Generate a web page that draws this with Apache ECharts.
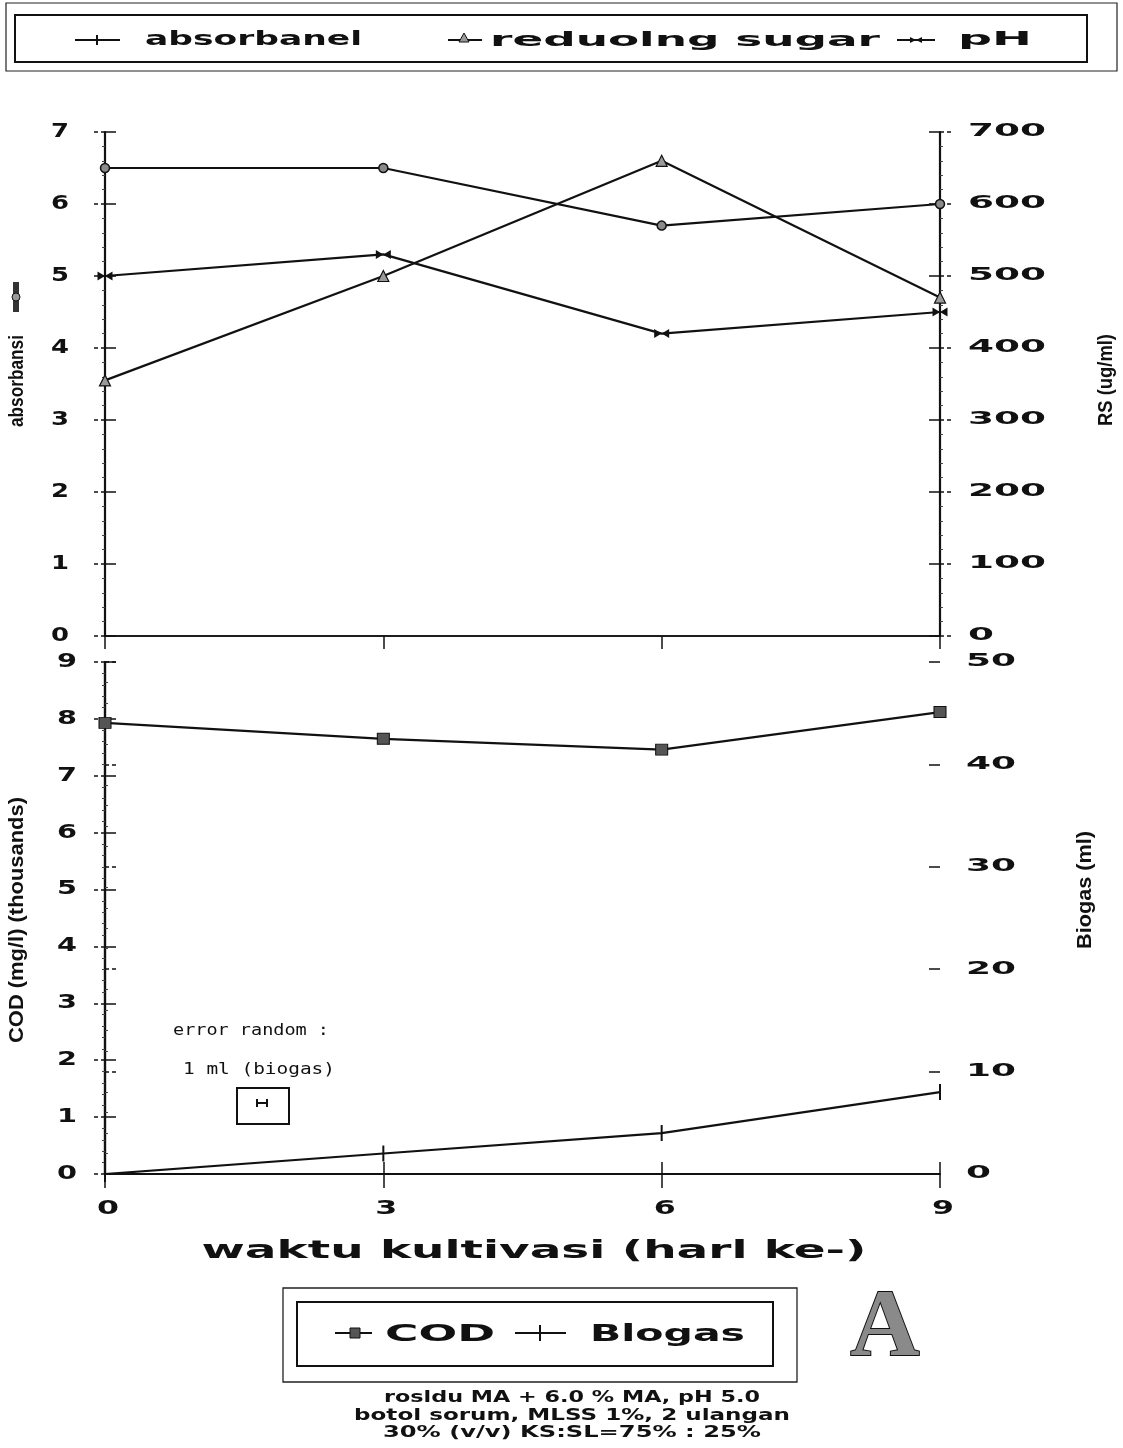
<!DOCTYPE html>
<html>
<head>
<meta charset="utf-8">
<title>Kultivasi residu MA</title>
<script src="https://cdn.jsdelivr.net/npm/echarts@6/dist/echarts.min.js"></script>
<style>
  html, body { margin: 0; padding: 0; background: #fff; }
  #chart { width: 1123px; height: 1448px; }
</style>
</head>
<body>
<div id="chart"></div>
<script>
// Day of cultivation (x values shared by both panels)
const days = [0, 3, 6, 9];

// Upper panel series
const absorbansi = [6.5, 6.5, 5.7, 6.0];          // left axis
const reducingSugar = [355, 500, 660, 470];       // right axis, ug/ml
const phValues = [5.0, 5.3, 4.2, 4.5];            // left axis

// Lower panel series
const cod = [7.93, 7.65, 7.46, 8.12];             // left axis, thousands mg/l
const biogas = [0, 2, 4, 8];                      // right axis, ml

// Tick labels
const xTicks = ['0', '3', '6', '9'];
const absTicks = ['0', '1', '2', '3', '4', '5', '6', '7'];
const rsTicks = ['0', '100', '200', '300', '400', '500', '600', '700'];
const codTicks = ['0', '1', '2', '3', '4', '5', '6', '7', '8', '9'];
const gasTicks = ['0', '10', '20', '30', '40', '50'];

const pair = (ys) => days.map((d, i) => [d, ys[i]]);

const chart = echarts.init(document.getElementById('chart'), null, { renderer: 'canvas' });

const INK = '#111';
const lineAxis = (w) => ({ show: true, lineStyle: { color: INK, width: w } });
const outTicks = { show: true, inside: false, length: 13, lineStyle: { color: INK, width: 1.5, type: [4, 3] } };
const inTicks = { show: true, inside: true, length: 11, lineStyle: { color: INK, width: 1.5 } };

function xAx(grid, pos, ticks, showLine, w) {
  return {
    type: 'value', gridIndex: grid, position: pos, min: 0, max: 9, interval: 3,
    axisLine: showLine ? lineAxis(w) : { show: false },
    axisTick: ticks || { show: false },
    axisLabel: { show: false }, splitLine: { show: false }
  };
}
function yAx(grid, pos, max, interval, ticks, showLine) {
  return {
    type: 'value', gridIndex: grid, position: pos, min: 0, max: max, interval: interval,
    axisLine: showLine ? lineAxis(2.2) : { show: false },
    axisTick: ticks, minorTick: showLine ? { show: true, splitNumber: 5, length: 3, lineStyle: { color: '#444', width: 1 } } : { show: false },
    axisLabel: { show: false }, splitLine: { show: false }
  };
}

const bowtie = 'path://M0,0 L10,5 L0,10 Z M20,0 L10,5 L20,10 Z';
const vtick = 'path://M0,0 L2,0 L2,20 L0,20 Z';

const option = {
  backgroundColor: '#fff',
  animation: false,
  grid: [
    { left: 105, right: 183, top: 132, height: 504 },
    { left: 105, right: 183, top: 662, height: 512 }
  ],
  xAxis: [
    xAx(0, 'bottom', { show: true, length: 13, lineStyle: { color: INK, width: 1.5 } }, true, 1.5),
    xAx(0, 'top', null, true, 1.5),
    xAx(1, 'bottom', { show: true, length: 14, lineStyle: { color: INK, width: 1.5 } }, true, 1.8),
    xAx(1, 'bottom', { show: true, inside: true, length: 12, lineStyle: { color: INK, width: 1.5 } }, false),
    xAx(1, 'top', null, true, 1.5)
  ],
  yAxis: [
    yAx(0, 'left', 7, 1, outTicks, true),
    yAx(0, 'left', 7, 1, inTicks, false),
    yAx(0, 'right', 700, 100, outTicks, true),
    yAx(0, 'right', 700, 100, inTicks, false),
    yAx(1, 'left', 9, 1, outTicks, true),
    yAx(1, 'left', 9, 1, inTicks, false),
    yAx(1, 'right', 50, 10, outTicks, true),
    yAx(1, 'right', 50, 10, inTicks, false)
  ],
  series: [
    {
      name: 'absorbansi', type: 'line', xAxisIndex: 0, yAxisIndex: 0, data: pair(absorbansi),
      symbol: 'circle', symbolSize: 9,
      itemStyle: { color: '#8a8a8a', borderColor: INK, borderWidth: 1.5 },
      lineStyle: { color: INK, width: 2.2 }
    },
    {
      name: 'reducing sugar', type: 'line', xAxisIndex: 0, yAxisIndex: 2, data: pair(reducingSugar),
      symbol: 'triangle', symbolSize: 11,
      itemStyle: { color: '#9a9a9a', borderColor: INK, borderWidth: 1.2 },
      lineStyle: { color: INK, width: 2.2 }
    },
    {
      name: 'pH', type: 'line', xAxisIndex: 0, yAxisIndex: 0, data: pair(phValues),
      symbol: bowtie, symbolSize: [15, 9],
      itemStyle: { color: INK },
      lineStyle: { color: INK, width: 2.2 }
    },
    {
      name: 'COD', type: 'line', xAxisIndex: 2, yAxisIndex: 4, data: pair(cod),
      symbol: 'rect', symbolSize: [12, 11],
      itemStyle: { color: '#555', borderColor: INK, borderWidth: 1 },
      lineStyle: { color: INK, width: 2.2 }
    },
    {
      name: 'Biogas', type: 'line', xAxisIndex: 2, yAxisIndex: 6, data: pair(biogas),
      symbol: vtick, symbolSize: [2, 16],
      itemStyle: { color: INK },
      lineStyle: { color: INK, width: 2.2 }
    }
  ]
};

chart.setOption(option);

// ---- wide plotter-style lettering: text stretched to a given width ----
const mctx = document.createElement('canvas').getContext('2d');
function textW(text, size, weight, family) {
  mctx.font = weight + ' ' + size + 'px ' + family;
  return mctx.measureText(text).width;
}
function wide(text, x, y, o) {
  const size = o.size, weight = o.weight || 'bold', family = o.family || 'DejaVu Sans';
  const sx = o.width ? o.width / textW(text, size, weight, family) : 1;
  return {
    type: 'text', x: x, y: y, rotation: o.rotation || 0, scaleX: sx, silent: true, z: 20,
    style: {
      text: text, fontSize: size, fontFamily: family, fontWeight: weight,
      fill: o.fill || INK, align: o.align || 'center', verticalAlign: 'middle',
      stroke: o.stroke || null, lineWidth: o.lineWidth || 0
    }
  };
}

const g = [];
const px = (axis, idx, v) => chart.convertToPixel(axis === 'x' ? { xAxisIndex: idx } : { yAxisIndex: idx }, v);

// y tick labels
absTicks.forEach((t, i) => g.push(wide(t, 60, px('y', 0, i), { size: 19, width: 18 })));
rsTicks.forEach((t, i) => g.push(wide(t, 968, px('y', 2, i * 100), { size: 17, width: t.length * 26, align: 'left' })));
codTicks.forEach((t, i) => g.push(wide(t, 67, px('y', 4, i), { size: 19, width: 20 })));
gasTicks.forEach((t, i) => g.push(wide(t, 966, px('y', 6, i * 10), { size: 17, width: t.length * 25, align: 'left' })));
// x tick labels
xTicks.forEach((t, i) => g.push(wide(t, px('x', 2, days[i]) + 3, 1209, { size: 19, width: 22 })));

// axis titles (condensed lettering)
g.push(wide('waktu kultivasi (harl ke-)', 534, 1251, { size: 25, width: 665 }));
const narrow = { size: 20, weight: 'bold', family: 'Liberation Sans', rotation: Math.PI / 2 };
g.push(wide('absorbansi', 17, 381, Object.assign({ width: 92 }, narrow)));
g.push(wide('RS (ug/ml)', 1106, 380, Object.assign({ width: 92 }, narrow)));
g.push(wide('COD (mg/l) (thousands)', 17, 920, Object.assign({ width: 246 }, narrow)));
g.push(wide('Biogas (ml)', 1085, 890, Object.assign({ width: 118 }, narrow)));

// small line key beside the absorbansi title
g.push({ type: 'line', shape: { x1: 16, y1: 282, x2: 16, y2: 312 }, style: { stroke: '#333', lineWidth: 6 }, silent: true });
g.push({ type: 'circle', shape: { cx: 16, cy: 297, r: 4 }, style: { fill: '#999', stroke: INK, lineWidth: 1 }, silent: true });

// top key box
g.push({ type: 'rect', shape: { x: 6, y: 3, width: 1111, height: 68 }, style: { fill: null, stroke: '#222', lineWidth: 1.2 }, silent: true });
g.push({ type: 'rect', shape: { x: 15, y: 15, width: 1072, height: 47 }, style: { fill: null, stroke: INK, lineWidth: 2 }, silent: true });
g.push({ type: 'line', shape: { x1: 75, y1: 40, x2: 120, y2: 40 }, style: { stroke: INK, lineWidth: 2 }, silent: true });
g.push({ type: 'line', shape: { x1: 97, y1: 35, x2: 97, y2: 45 }, style: { stroke: INK, lineWidth: 2 }, silent: true });
g.push(wide('absorbanel', 145, 40, { size: 19, width: 217, align: 'left' }));
g.push({ type: 'line', shape: { x1: 448, y1: 40, x2: 482, y2: 40 }, style: { stroke: INK, lineWidth: 2 }, silent: true });
g.push({ type: 'polygon', shape: { points: [[464, 33], [459, 42], [469, 42]] }, style: { fill: '#999', stroke: INK, lineWidth: 1 }, silent: true });
g.push(wide('reduolng sugar', 490, 41, { size: 19, width: 390, align: 'left' }));
g.push({ type: 'line', shape: { x1: 897, y1: 40, x2: 935, y2: 40 }, style: { stroke: INK, lineWidth: 2 }, silent: true });
g.push({ type: 'polygon', shape: { points: [[910, 37], [916, 40], [910, 43]] }, style: { fill: INK }, silent: true });
g.push({ type: 'polygon', shape: { points: [[922, 37], [916, 40], [922, 43]] }, style: { fill: INK }, silent: true });
g.push(wide('pH', 958, 40, { size: 19, width: 74, align: 'left' }));

// random-error note with its 1 ml bar
g.push(wide('error random :', 251, 1031, { size: 15, width: 156, weight: 'normal', family: 'DejaVu Sans Mono' }));
g.push(wide('1 ml (biogas)', 259, 1070, { size: 16, width: 152, weight: 'normal', family: 'DejaVu Sans Mono' }));
g.push({ type: 'rect', shape: { x: 237, y: 1088, width: 52, height: 36 }, style: { fill: null, stroke: INK, lineWidth: 2 }, silent: true });
g.push({ type: 'line', shape: { x1: 257, y1: 1103, x2: 267, y2: 1103 }, style: { stroke: INK, lineWidth: 2 }, silent: true });
g.push({ type: 'line', shape: { x1: 257, y1: 1099, x2: 257, y2: 1107 }, style: { stroke: INK, lineWidth: 2 }, silent: true });
g.push({ type: 'line', shape: { x1: 267, y1: 1099, x2: 267, y2: 1107 }, style: { stroke: INK, lineWidth: 2 }, silent: true });

// bottom key box
g.push({ type: 'rect', shape: { x: 283, y: 1288, width: 514, height: 94 }, style: { fill: null, stroke: '#222', lineWidth: 1.3 }, silent: true });
g.push({ type: 'rect', shape: { x: 297, y: 1302, width: 476, height: 64 }, style: { fill: null, stroke: INK, lineWidth: 2 }, silent: true });
g.push({ type: 'line', shape: { x1: 335, y1: 1333, x2: 372, y2: 1333 }, style: { stroke: INK, lineWidth: 2 }, silent: true });
g.push({ type: 'rect', shape: { x: 350, y: 1328, width: 10, height: 10 }, style: { fill: '#555', stroke: INK, lineWidth: 1 }, silent: true });
g.push(wide('COD', 385, 1335, { size: 23, width: 110, align: 'left' }));
g.push({ type: 'line', shape: { x1: 515, y1: 1333, x2: 566, y2: 1333 }, style: { stroke: INK, lineWidth: 2 }, silent: true });
g.push({ type: 'line', shape: { x1: 540, y1: 1325, x2: 540, y2: 1341 }, style: { stroke: INK, lineWidth: 2 }, silent: true });
g.push(wide('Blogas', 590, 1335, { size: 23, width: 155, align: 'left' }));

// panel letter
g.push({
  type: 'text', x: 885, y: 1330, silent: true, z: 20,
  style: { text: 'A', fontSize: 96, fontFamily: 'Liberation Serif', fontWeight: 'bold', fill: '#8a8a8a', stroke: INK, lineWidth: 2, align: 'center', verticalAlign: 'middle' }
});

// conditions of the run
g.push(wide('rosldu MA + 6.0 % MA, pH 5.0', 572, 1398, { size: 15, width: 376 }));
g.push(wide('botol sorum, MLSS 1%, 2 ulangan', 572, 1416, { size: 15, width: 436 }));
g.push(wide('30% (v/v) KS:SL=75% : 25%', 572, 1433, { size: 15, width: 378 }));

chart.setOption({ graphic: g });
</script>
</body>
</html>
